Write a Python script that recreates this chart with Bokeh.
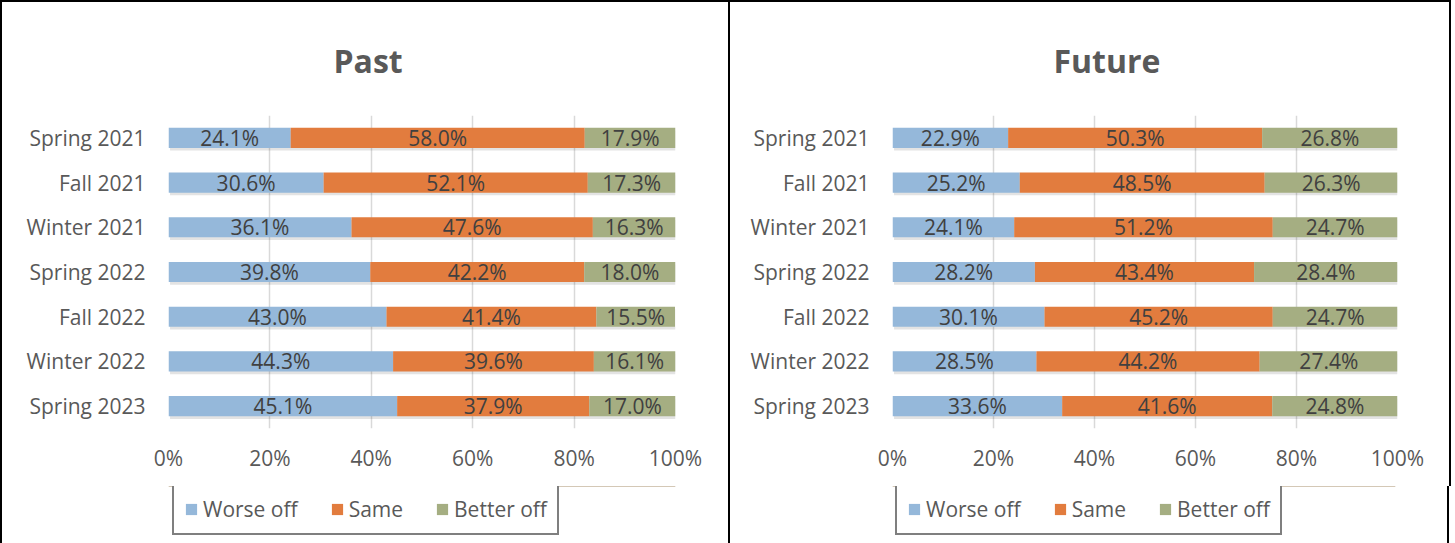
from bokeh.plotting import figure
from bokeh.models import ColumnDataSource, FactorRange, Range1d, FixedTicker, Title, Legend, LegendItem
from bokeh.layouts import row, column
from bokeh.transform import dodge
from bokeh.core.properties import value
from bokeh.embed import file_html
from bokeh.resources import INLINE

categories = ["Spring 2021", "Fall 2021", "Winter 2021", "Spring 2022", "Fall 2022", "Winter 2022", "Spring 2023"]
series_names = ["Worse off", "Same", "Better off"]
past_worse = [24.1, 30.6, 36.1, 39.8, 43.0, 44.3, 45.1]
past_same = [58.0, 52.1, 47.6, 42.2, 41.4, 39.6, 37.9]
past_better = [17.9, 17.3, 16.3, 18.0, 15.5, 16.1, 17.0]
future_worse = [22.9, 25.2, 24.1, 28.2, 30.1, 28.5, 33.6]
future_same = [50.3, 48.5, 51.2, 43.4, 45.2, 44.2, 41.6]
future_better = [26.8, 26.3, 24.7, 28.4, 24.7, 27.4, 24.8]
x_ticks = [0, 20, 40, 60, 80, 100]
x_tick_labels = ["0%", "20%", "40%", "60%", "80%", "100%"]

COLORS = ["#95B8DA", "#E27C3E", "#A5AE82"]
FONT = "Open Sans"
GRAY = "#595959"
FS = "21px"


def make_panel(title, worse, same, better, left_border, right_border, title_offset, css):
    cats_rev = list(reversed(categories))
    p = figure(
        y_range=FactorRange(*cats_rev),
        x_range=Range1d(0, 100),
        frame_width=503, frame_height=311,
        min_border_left=left_border, min_border_right=right_border,
        min_border_top=110, min_border_bottom=60,
        output_backend="svg", toolbar_location=None,
        background_fill_color="white", border_fill_color="white",
        outline_line_color=None,
    )
    p.styles = css
    data = {"cat": categories, "w": worse, "s": same, "b": better}
    src = ColumnDataSource(data)
    # soft shadows under the bars
    p.hbar(y=dodge("cat", -0.06, range=p.y_range), left=0.3, right=100.3, height=0.45,
           source=src, fill_color="#000000", fill_alpha=0.11, line_color=None)
    p.hbar_stack(["w", "s", "b"], y="cat", height=0.45, source=src,
                 color=COLORS, line_color=None)
    # data labels
    mids_x, mids_y, texts = [], [], []
    for i, c in enumerate(categories):
        start = 0.0
        for v in (worse[i], same[i], better[i]):
            mids_x.append(start + v / 2.0)
            mids_y.append(c)
            texts.append(f"{v:.1f}%")
            start += v
    lsrc = ColumnDataSource({"x": mids_x, "y": mids_y, "t": texts})
    p.text(x="x", y="y", text="t", source=lsrc, text_align="center", text_baseline="middle",
           text_font=value(FONT), text_font_size=FS, text_color="#404040")

    p.xaxis.ticker = FixedTicker(ticks=x_ticks)
    p.xaxis.major_label_overrides = {t: l for t, l in zip(x_ticks, x_tick_labels)}
    for ax in (p.xaxis[0], p.yaxis[0]):
        ax.axis_line_color = None
        ax.major_tick_line_color = None
        ax.minor_tick_line_color = None
        ax.major_label_text_font = FONT
        ax.major_label_text_font_size = FS
        ax.major_label_text_color = GRAY
    p.xaxis.major_label_standoff = 9
    p.yaxis.major_label_standoff = 17
    p.xgrid.ticker = FixedTicker(ticks=x_ticks)
    p.xgrid.grid_line_color = "#D9D9D9"
    p.xgrid.grid_line_width = 1.5
    p.ygrid.grid_line_color = None

    p.add_layout(Title(text=title, align="left", offset=title_offset, standoff=68,
                       text_font=FONT, text_font_size="32px", text_font_style="bold",
                       text_color=GRAY), "above")
    return p


def make_legend_fig(width, loc_x, css):
    lf = figure(width=width, height=60, x_range=Range1d(0, 1), y_range=Range1d(0, 1),
                min_border=0, x_axis_location=None, y_axis_location=None,
                output_backend="svg", toolbar_location=None, outline_line_color=None,
                background_fill_color="white", border_fill_color="white")
    lf.xgrid.visible = False
    lf.ygrid.visible = False
    lf.styles = css
    rends = []
    for c in COLORS:
        # stand-in renderer placed outside the visible range, only used for the legend swatch
        rends.append(lf.hbar(y="y", right="r", height=0.5, fill_color=c, line_color=None,
                             source=ColumnDataSource({"y": [5.0], "r": [5.0]})))
    legend = Legend(items=[LegendItem(label=n, renderers=[r]) for n, r in zip(series_names, rends)],
                    location=(loc_x, 11), orientation="horizontal",
                    label_text_font=FONT, label_text_font_size=FS, label_text_color=GRAY,
                    glyph_width=14, glyph_height=14, label_standoff=5, spacing=32,
                    padding=10, margin=0, border_line_color="black", border_line_width=2,
                    background_fill_alpha=1.0)
    lf.add_layout(legend, "center")
    return lf


p1 = make_panel("Past", past_worse, past_same, past_better, 166, 57, 165,
                {"border-left": "2px solid black", "border-top": "2px solid black",
                 "border-right": "2px solid black"})
p2 = make_panel("Future", future_worse, future_same, future_better, 162, 54, 161,
                {"border-top": "2px solid black", "border-right": "2px solid black"})
l1 = make_legend_fig(730, 4, {"border-left": "2px solid black", "border-right": "2px solid black"})
l2 = make_legend_fig(719, 3, {"border-right": "2px solid black"})
layout = row(column(p1, l1, spacing=0), column(p2, l2, spacing=0), spacing=0)
open("out.html", "w").write(file_html(layout, INLINE))
